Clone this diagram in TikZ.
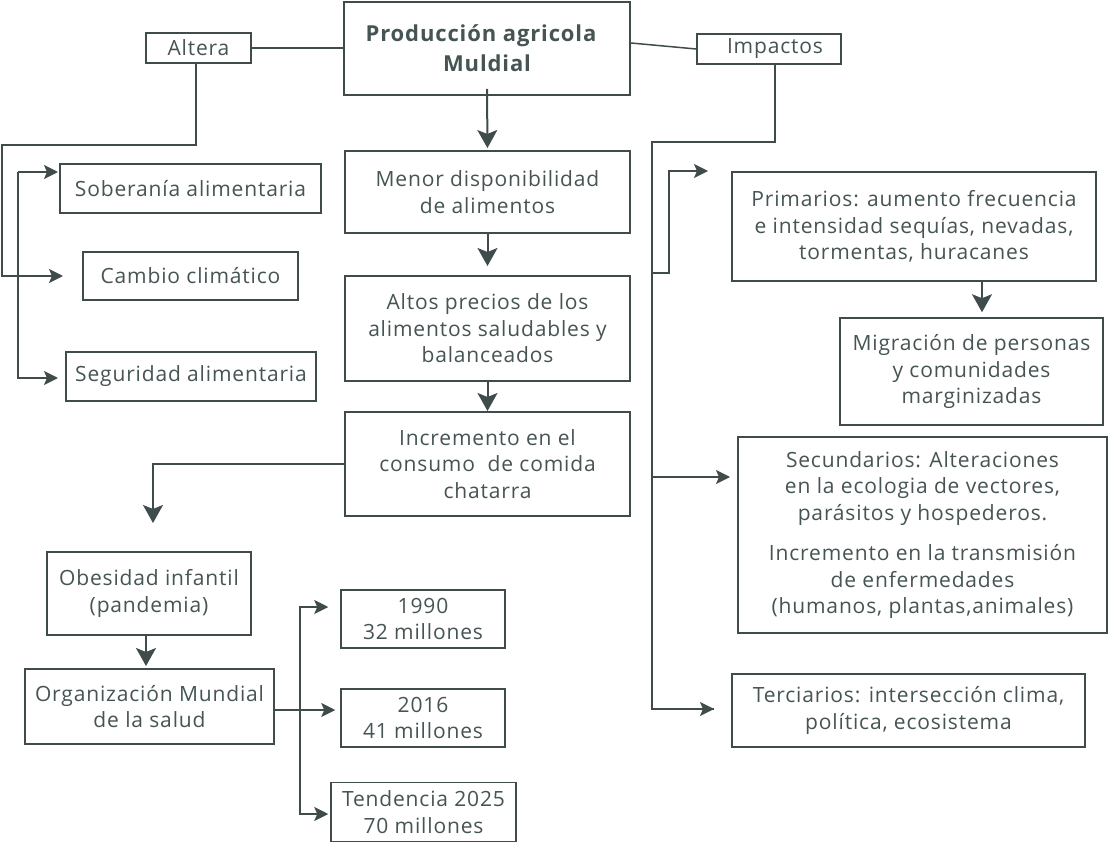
\documentclass[tikz,border=0pt]{standalone}
\usepackage{fontspec}
\setmainfont{Open Sans}[LetterSpace=4]
\usetikzlibrary{arrows.meta,calc}
\definecolor{ink}{RGB}{64,76,76}
\definecolor{txt}{RGB}{70,84,84}
\begin{document}
\begin{tikzpicture}[x=1pt,y=-1pt,
  box/.style={draw=ink,line width=2pt,align=center,inner sep=0pt,text=txt,
    font=\fontsize{21}{26.5}\selectfont},
  thin/.style={box,line width=1.5pt},
  conn/.style={draw=ink,line width=2pt},
  arr/.style={conn,-{Stealth[length=18pt,width=20pt,inset=4pt]}},
  sarr/.style={conn,line width=1.6pt,-{Stealth[length=14pt,width=14pt,inset=3pt]}}]
\useasboundingbox (0,0) rectangle (1109,843);
\fill[white] (0,0) rectangle (1109,843);

% top
\node[box,minimum width=286pt,minimum height=93pt,font=\fontsize{22}{30}\selectfont\bfseries] (main) at (487,48.5) {\hspace*{-12pt}Producción agricola\\Muldial};
\node[thin,minimum width=105pt,minimum height=30pt] (altera) at (198.5,48) {Altera};
\node[thin,minimum width=144pt,minimum height=30pt] (impactos) at (769,49) {\hspace*{12pt}Impactos};

% left column
\node[box,minimum width=261pt,minimum height=49pt] (sober) at (190.5,188.5) {Soberanía alimentaria};
\node[thin,minimum width=215pt,minimum height=48pt] (cambio) at (190.5,276) {Cambio climático};
\node[thin,minimum width=250pt,minimum height=49pt] (segur) at (191,376.5) {Seguridad alimentaria};

% center column
\node[box,minimum width=285pt,minimum height=82pt] (menor) at (487.5,192) {Menor disponibilidad\\de alimentos};
\node[box,minimum width=285pt,minimum height=105pt] (altos) at (487.5,328.5) {Altos precios de los\\alimentos saludables y\\balanceados};
\node[box,minimum width=285pt,minimum height=104pt] (incr) at (487.5,464) {Incremento en el\\consumo\ \ de comida\\chatarra};

% bottom left
\node[box,minimum width=204pt,minimum height=83pt] (obes) at (149,593.5) {Obesidad infantil\\(pandemia)};
\node[box,minimum width=249pt,minimum height=75pt] (oms) at (149.5,706.5) {Organización Mundial\\de la salud};
\node[thin,minimum width=164pt,minimum height=58pt] (y1990) at (423,619) {1990\\32 millones};
\node[thin,minimum width=164pt,minimum height=58pt] (y2016) at (423,718) {2016\\41 millones};
\node[thin,minimum width=185pt,minimum height=59pt] (tend) at (423.5,812) {Tendencia 2025\\70 millones};

% right column
\node[box,minimum width=364pt,minimum height=109pt] (prim) at (914,226.5) {Primarios: aumento frecuencia\\e intensidad sequías, nevadas,\\tormentas, huracanes};
\node[thin,minimum width=263pt,minimum height=107pt] (migr) at (971.5,371.5) {Migración de personas\\y comunidades\\marginizadas};
\node[thin,minimum width=369pt,minimum height=196pt] (secu) at (922.5,535) {Secundarios: Alteraciones\\en la ecologia de vectores,\\parásitos y hospederos.\\[14pt]Incremento en la transmisión\\de enfermedades\\(humanos, plantas,animales)};
\node[thin,minimum width=353pt,minimum height=73pt] (terc) at (908.5,710.5) {Terciarios: intersección clima,\\política, ecosistema};

% free ends
\coordinate (lA) at (2,145);
\coordinate (tipC) at (63,276);
\coordinate (tipS) at (58,172);
\coordinate (tipG) at (58,378);
\coordinate (tipO) at (153,523);
\coordinate (vB) at (300,710);
\coordinate (rA) at (652,142);
\coordinate (tipP) at (708,171);
\coordinate (tipSe) at (730,477);
\coordinate (tipT) at (714,709);

% top connectors
\draw[conn] (altera.east) -- (main.west |- altera.east);
\draw[conn,line width=1.5pt] (main.east |- 0,43) -- (impactos.west);
\draw[arr,shorten >=2pt] ([yshift=7pt]main.south) -- (menor.north);
\draw[arr,shorten >=9pt] (menor.south) -- (altos.north);
\draw[arr] (altos.south) -- (incr.north);

% left connectors
\draw[sarr] ([xshift=-2.5pt]altera.south) |- (lA) |- (tipC);
\draw[sarr] (tipS -| 18,0) -- (tipS);
\draw[sarr] (18,172) |- (tipG);

% incremento to obesidad
\draw[arr] (incr.west) -| (tipO);
\draw[arr,shorten >=2pt] (obes.south -| 146,0) -- (oms.north -| 146,0);

% OMS fan-out
\draw[conn] (oms.east |- vB) -- (vB);
\draw[sarr] (vB) |- ($(y1990.west)+(-12,-12)$);
\draw[sarr] (vB) -- ($(y2016.west |- vB)+(-5,0)$);
\draw[sarr] (vB) |- ($(tend.west)+(-2,2)$);

% right connectors
\draw[conn,line width=1.6pt] ([xshift=6pt]impactos.south) |- (rA) |- (tipT);
\draw[sarr] (rA |- 0,273) -- (669,273) |- (tipP);
\draw[sarr] (rA |- tipSe) -- (tipSe);
\draw[sarr] (rA |- tipT) -- (tipT);
\draw[arr,shorten >=5pt] (prim.south -| 982,0) -- (migr.north -| 982,0);
\end{tikzpicture}
\end{document}
